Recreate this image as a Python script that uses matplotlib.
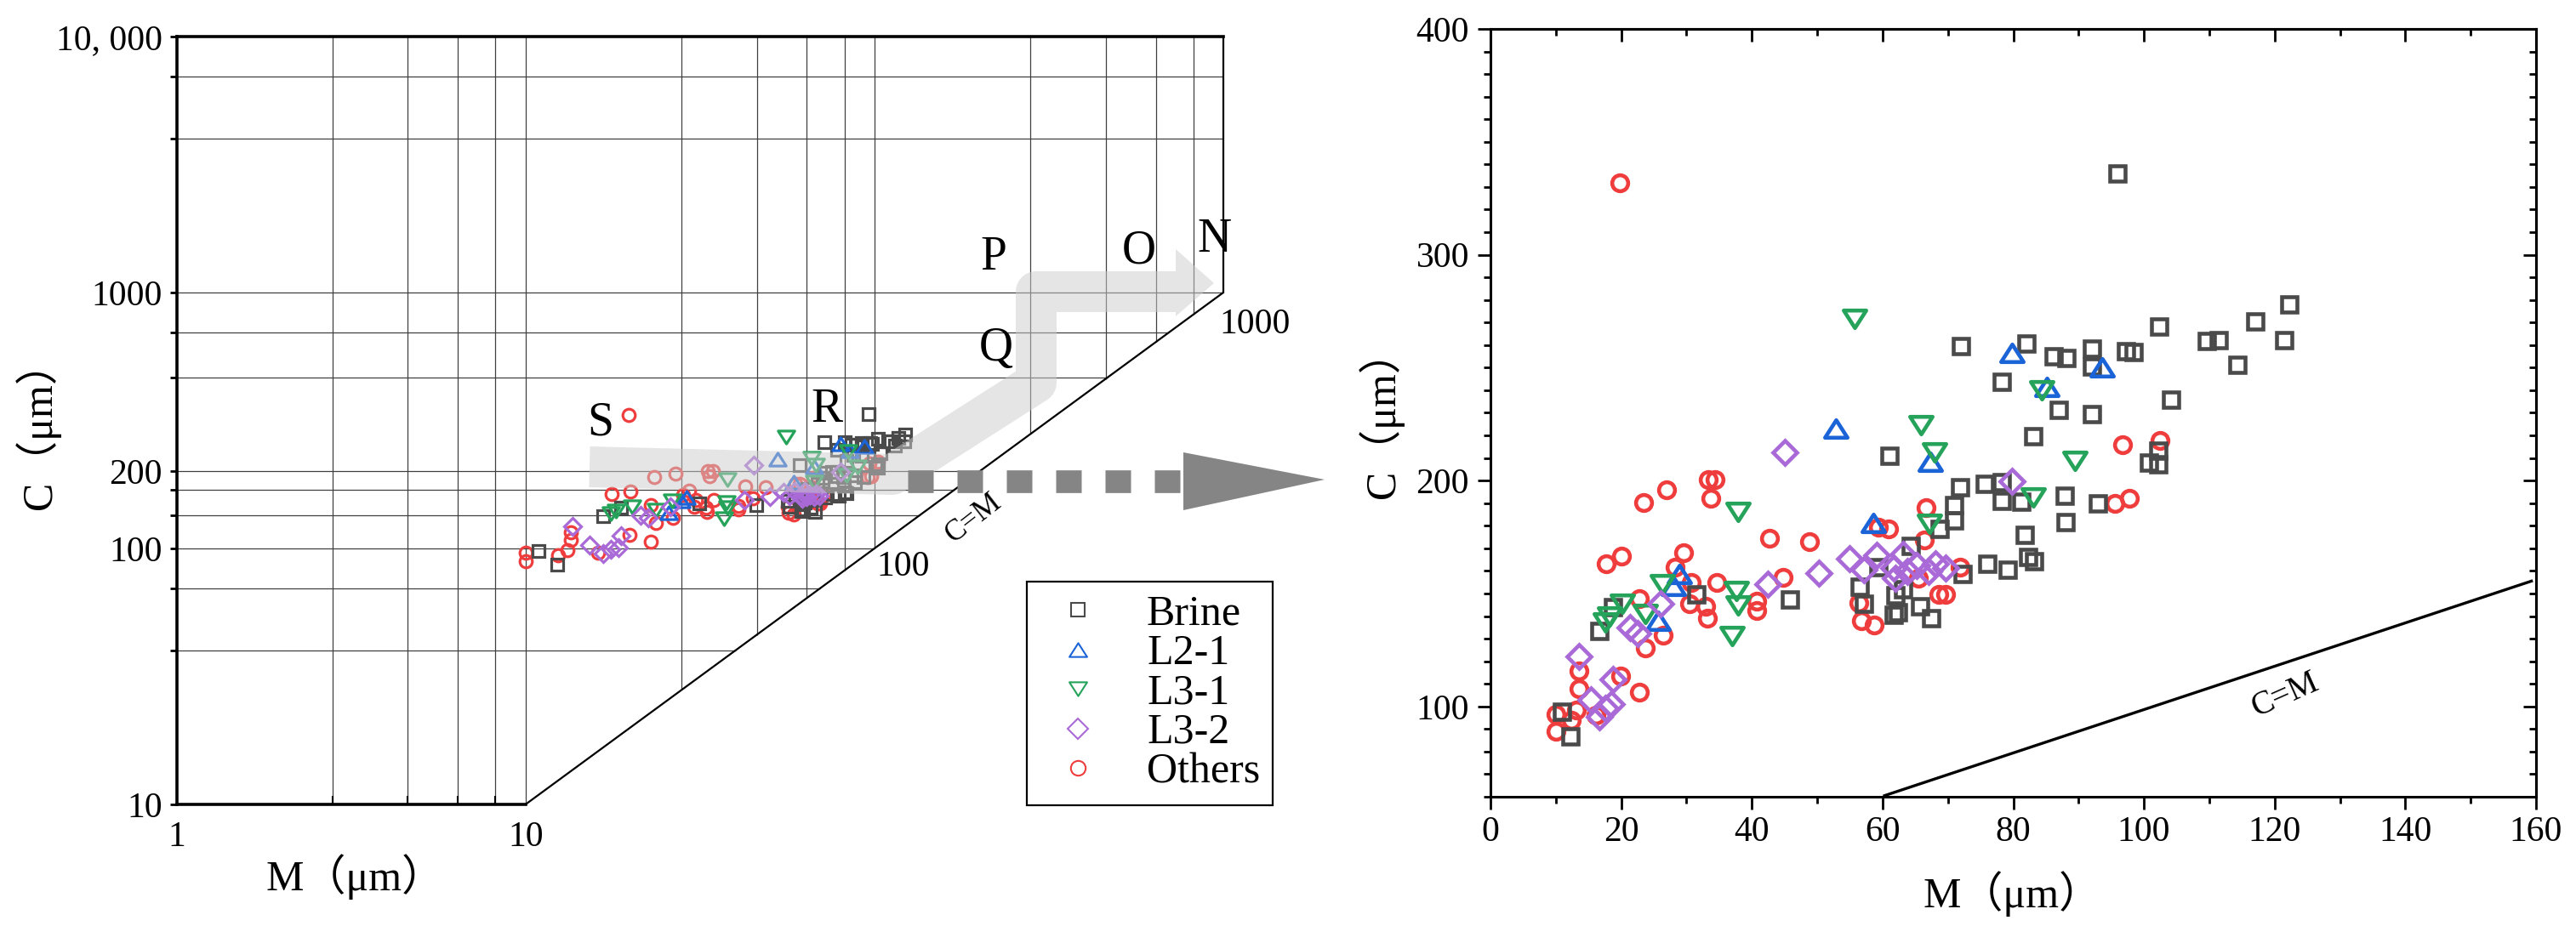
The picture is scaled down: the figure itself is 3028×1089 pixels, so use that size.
import numpy as np
import matplotlib
matplotlib.use("Agg")
from matplotlib import pyplot as plt
from matplotlib import transforms as mtransforms
from matplotlib.lines import Line2D
from matplotlib.patches import Polygon
from matplotlib.path import Path
from matplotlib.ticker import NullFormatter

plt.rcParams["font.family"] = ["Liberation Serif", "Noto Sans CJK SC", "DejaVu Sans"]

# ---- data (M, C in um) ----
brine_m = [10.9, 12.3, 16.7, 18.8, 31.5, 45.8, 56.5, 57.1, 59.4, 61.0, 61.7, 62.3, 62.0, 63.2,
           64.3, 65.8, 67.5, 68.7, 71.0, 71.0, 71.9, 72.0, 72.2, 75.7, 76.0, 78.3, 78.3, 78.3,
           79.2, 81.2, 81.8, 82.0, 82.3, 83.2, 83.1, 86.2, 86.9, 88.0, 87.9, 88.2, 92.1, 92.1,
           92.1, 93.0, 96.0, 97.3, 98.4, 100.8, 102.2, 102.2, 102.3, 104.2, 109.6, 111.4, 114.3,
           117.0, 121.5, 122.3]
brine_c = [97.5, 86.7, 133.5, 144.0, 149.8, 147.3, 152.9, 145.4, 161.7, 211.0, 140.4, 141.7, 149.2, 151.7,
           171.1, 144.2, 139.1, 178.7, 182.4, 189.3, 196.9, 259.6, 158.6, 198.7, 163.0, 243.6, 199.4, 191.2,
           160.5, 190.6, 176.1, 260.6, 166.1, 164.3, 219.7, 255.2, 231.4, 181.8, 193.3, 254.3, 258.3, 250.4,
           229.5, 189.9, 336.0, 257.3, 256.8, 207.9, 213.2, 207.4, 268.4, 236.0, 261.7, 262.1, 251.4,
           270.6, 262.1, 278.0]

l21_m = [25.7, 28.0, 28.9, 52.8, 58.6, 67.3, 79.8, 85.1, 93.6]
l21_c = [137.8, 153.5, 158.5, 223.0, 181.3, 208.3, 256.5, 241.4, 250.2]

l31_m = [17.6, 18.2, 20.2, 23.7, 26.3, 37.0, 37.6, 37.9, 37.9, 55.7, 65.9, 67.2, 68.0, 83.1, 84.3, 89.5]
l31_c = [137.0, 140.0, 145.4, 141.0, 154.0, 131.0, 151.1, 144.8, 186.2, 271.5, 224.5, 181.0, 212.4,
         192.5, 239.8, 208.8]

l32_m = [13.6, 15.3, 16.7, 17.6, 18.5, 18.8, 21.4, 22.5, 26.0, 42.4, 45.0, 50.2, 54.9, 57.2, 59.1,
         61.7, 62.0, 63.2, 63.8, 65.2, 67.0, 68.1, 69.6, 79.8]
l32_c = [122.0, 103.0, 95.5, 99.0, 101.0, 112.0, 134.8, 132.2, 145.3, 154.2, 212.4, 159.0, 165.3, 160.5,
         166.8, 161.1, 156.7, 167.4, 159.9, 162.4, 159.9, 163.0, 161.1, 199.8]

others_m = [10.0, 10.0, 12.4, 13.2, 13.5, 13.5, 16.1, 17.7, 19.8, 19.9, 20.0, 22.8, 22.8, 23.4, 23.7,
            26.4, 26.9, 28.3, 29.5, 30.4, 30.7, 33.0, 33.2, 33.3, 33.7, 34.4, 34.6, 40.7, 40.8, 42.7,
            44.8, 48.8, 56.4, 56.8, 58.7, 59.4, 60.9, 65.5, 66.4, 66.7, 68.6, 69.7, 71.9, 95.5, 96.7,
            97.8, 102.5]
others_c = [96.5, 89.0, 94.0, 98.4, 107.8, 115.9, 96.0, 163.0, 332.0, 113.4, 166.5, 106.5, 147.9, 190.2,
            126.0, 131.6, 195.9, 161.7, 168.0, 145.4, 154.8, 144.2, 139.1, 200.6, 192.1, 200.6, 154.8,
            142.3, 146.7, 174.3, 157.3, 172.8, 146.0, 138.1, 136.0, 179.3, 178.7, 156.7, 173.7, 188.1,
            149.8, 149.8, 161.7, 189.9, 215.7, 192.1, 217.6]

labels = ["Brine", "L2-1", "L3-1", "L3-2", "Others"]
colors = ["#4a4a4a", "#1b64d8", "#25a35a", "#a96ad8", "#ef3d3d"]

# left panel grid (log-log, only above C=M)
grid_x = [2.8, 4.6, 6.4, 8.2, 10, 28, 46, 64, 82, 100, 280, 460, 640, 820]
grid_y = [40, 70, 100, 135, 170, 200, 465, 700, 1000, 4000, 7000]
left_yticks = [10, 100, 200, 1000, 10000]
left_yticklabels = ["10", "100", "200", "1000", "10, 000"]

# C=M line on right panel, as drawn
cm_m = [60.3, 159.3]
cm_c = [60.5, 155.5]

# annotation shapes in figure pixels (from top-left)
band_x = [693, 1049, 1218, 1218, 1382]
band_y = [549, 558, 450, 343, 343]
band_head = [(1382, 293), (1382, 372), (1427, 333)]
dash_x = [1067, 1391]
dash_y = [566, 566]
dash_head = [(1391, 532), (1391, 600), (1557, 564)]
letters = [("S", 706, 498), ("R", 972, 482), ("Q", 1171, 410), ("P", 1168, 303),
           ("O", 1339, 295), ("N", 1427, 282)]

W, H = 3028, 1089
fig = plt.figure(figsize=(W / 100, H / 100), dpi=100)
px = mtransforms.Affine2D().scale(1 / W, -1 / H).translate(0, 1) + fig.transFigure


def tri(up):
    s = 1 if up else -1
    v = [(0, s * 0.78), (-1, -s * 0.78), (1, -s * 0.78), (0, s * 0.78)]
    return Path(v, [Path.MOVETO, Path.LINETO, Path.LINETO, Path.CLOSEPOLY])


markers = ["s", tri(True), tri(False), "D", "o"]
series = [(brine_m, brine_c), (l21_m, l21_c), (l31_m, l31_c), (l32_m, l32_c), (others_m, others_c)]
order = [4, 0, 1, 2, 3]


def draw_points(ax, sizes, mew):
    for i in order:
        m, c = series[i]
        ax.plot(m, c, linestyle="none", marker=markers[i], ms=sizes[i], mfc="none",
                mec=colors[i], mew=mew, zorder=3, clip_on=False)


# ---------------- left panel ----------------
ax = fig.add_axes([207.6 / W, 1 - 946 / H, (1438 - 207.6) / W, (946 - 43) / H])
ax.set_xscale("log")
ax.set_yscale("log")
ax.set_xlim(1, 1000)
ax.set_ylim(10, 10000)
gx = np.array(grid_x, dtype=float)
gy = np.array(grid_y, dtype=float)
ax.vlines(gx, np.maximum(gx, 10), 10000, colors="#404040", lw=0.9, zorder=1)
ax.hlines(gy, 1, np.minimum(gy, 1000), colors="#404040", lw=0.9, zorder=1)
ax.plot([10, 1000], [10, 1000], color="black", lw=1.6, zorder=2)
for s in ["left", "top", "bottom"]:
    ax.spines[s].set_linewidth(2.6)
ax.spines["right"].set_linewidth(1.6)
ax.spines["bottom"].set_bounds(1, 10)
ax.spines["right"].set_bounds(1000, 10000)

ax.set_yticks(left_yticks, left_yticklabels)
ax.set_yticks([40, 70, 135, 170, 465, 700, 4000, 7000], minor=True)
ax.set_xticks([1, 10], ["1", "10"])
ax.set_xticks([2.8, 4.6, 6.4, 8.2], minor=True)
ax.xaxis.set_minor_formatter(NullFormatter())
ax.yaxis.set_minor_formatter(NullFormatter())
ax.tick_params(axis="y", which="both", direction="out", length=6, width=2, labelsize=30, pad=6)
ax.tick_params(axis="x", which="major", length=0, labelsize=30, pad=14)
ax.tick_params(axis="x", which="minor", direction="in", length=7, width=1.5)

draw_points(ax, [9.5, 14, 14, 10.5, 10.5], 2.3)

ax.annotate("100", (100, 100), xytext=(24, -16), textcoords="offset points",
            ha="center", va="center", fontsize=30)
ax.annotate("1000", (1000, 1000), xytext=(27, -27), textcoords="offset points",
            ha="center", va="center", fontsize=30, annotation_clip=False)
ax.text(192.6, 130.6, "C=M", rotation=38, fontsize=25, ha="center", va="center")

fig.text(44, 500, "C（μm）", transform=px, rotation=90, ha="center", va="center", fontsize=36)
fig.text(418, 1031, "M（μm）", transform=px, ha="center", va="center", fontsize=36)

# arrows and letters
fig.add_artist(Line2D(band_x, band_y, transform=px, lw=48 * 0.72, color="#cccccc", alpha=0.5,
                      solid_joinstyle="round", solid_capstyle="butt", zorder=4))
fig.add_artist(Polygon(band_head, closed=True, transform=px, facecolor="#cccccc", alpha=0.5,
                       edgecolor="none", zorder=4))
fig.add_artist(Line2D(dash_x, dash_y, transform=px, lw=26.7 * 0.72, color="#858585",
                      dashes=(30 / 26.7, 28 / 26.7), dash_capstyle="butt", zorder=4))
fig.add_artist(Polygon(dash_head, closed=True, transform=px, facecolor="#858585",
                       edgecolor="none", zorder=4))
for t, x, y in letters:
    fig.text(x, y, t, transform=px, ha="center", va="center", fontsize=40, zorder=6)

handles = [Line2D([], [], linestyle="none", marker=markers[i], ms=[11, 15, 15, 12.5, 12.5][i],
                  mfc="none", mec=colors[i], mew=1.5) for i in range(5)]
leg = fig.legend(handles, labels, loc="upper left", bbox_to_anchor=(1207 / W, 1 - 684 / H),
                 bbox_transform=fig.transFigure, fontsize=36, frameon=True, fancybox=False,
                 edgecolor="black", framealpha=1, borderpad=0.3, handlelength=1.8,
                 handletextpad=0.72, labelspacing=0.0, borderaxespad=0)
leg.get_frame().set_linewidth(1.6)

# ---------------- right panel ----------------
ax2 = fig.add_axes([1752 / W, 1 - 937 / H, (2981 - 1752) / W, (937 - 34) / H])
ax2.set_xlim(0, 160)
ax2.set_ylim(60, 400)
ax2.set_xticks(range(0, 161, 20))
ax2.set_xticks(range(0, 161, 10), minor=True)
ax2.set_yticks([100, 200, 300, 400])
ax2.set_yticks(range(60, 401, 10), minor=True)
ax2.tick_params(which="major", direction="out", length=11, width=2, labelsize=30, pad=5)
ax2.tick_params(which="minor", direction="out", length=6, width=2)
ax2.tick_params(axis="y", pad=7)
for s in ax2.spines.values():
    s.set_linewidth(2.2)

top = ax2.secondary_xaxis("top")
top.set_xticks(range(0, 161, 20))
top.set_xticks(range(0, 161, 10), minor=True)
top.tick_params(which="both", direction="in", labeltop=False, width=2)
top.tick_params(which="major", length=11)
top.tick_params(which="minor", length=6)
right = ax2.secondary_yaxis("right")
right.set_yticks([100, 200, 300, 400])
right.set_yticks(range(60, 401, 10), minor=True)
right.tick_params(which="both", direction="in", labelright=False, width=2)
right.tick_params(which="major", length=11)
right.tick_params(which="minor", length=6)
top.spines["top"].set_linewidth(2.2)
right.spines["right"].set_linewidth(2.2)

ax2.plot(cm_m, cm_c, color="black", lw=2.4, zorder=2)
ax2.text(121.6, 104.8, "C=M", rotation=24, fontsize=28, ha="center", va="center")

draw_points(ax2, [12.5, 19, 19, 14, 13.5], 3.3)

fig.text(1623, 487, "C（μm）", transform=px, rotation=90, ha="center", va="center", fontsize=36)
fig.text(2366, 1051, "M（μm）", transform=px, ha="center", va="center", fontsize=36)

fig.savefig("out.png", dpi=100)
plt.close(fig)
